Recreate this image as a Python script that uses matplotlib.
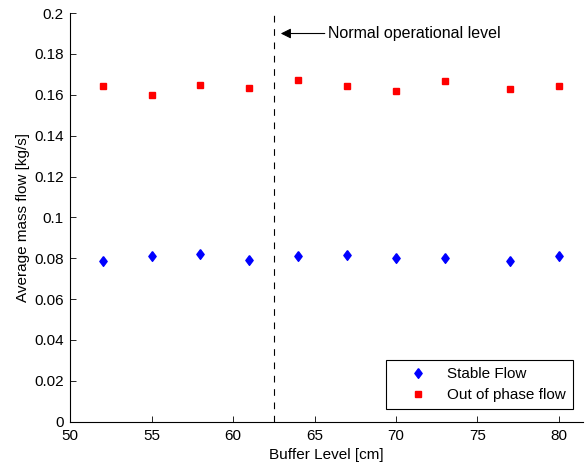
import matplotlib
matplotlib.use('Agg')
import matplotlib.pyplot as plt

plt.rcParams['font.family'] = ['Liberation Sans', 'DejaVu Sans']
plt.rcParams['font.size'] = 11

buffer_level = [52, 55, 58, 61, 64, 67, 70, 73, 77, 80]
stable_flow = [0.0788, 0.0812, 0.0820, 0.0791, 0.0811, 0.0817, 0.0799, 0.0801, 0.0788, 0.0812]
out_of_phase = [0.1644, 0.1597, 0.1647, 0.1634, 0.1672, 0.1644, 0.1618, 0.1667, 0.1628, 0.1644]
normal_level = 62.5

# matlab-ish diamond, a bit taller than wide
diamond = [(0, 1), (0.75, 0), (0, -1), (-0.75, 0), (0, 1)]

fig = plt.figure(figsize=(5.85, 4.67), dpi=100)
ax = fig.add_axes([0.12, 0.097, 0.877, 0.875])

ax.plot(buffer_level, stable_flow, linestyle='none', marker=diamond, color='b',
        markersize=7, label='Stable Flow')
ax.plot(buffer_level, out_of_phase, 'rs', markersize=4.6, label='Out of phase flow')
ax.axvline(normal_level, color='k', linestyle=(0, (6, 6)), linewidth=0.8)

ax.annotate('Normal operational level', xy=(62.93, 0.190), xytext=(65.8, 0.190),
            va='center', ha='left', fontsize=11.5,
            arrowprops=dict(arrowstyle='-|>', color='k', lw=0.8, mutation_scale=15,
                            shrinkA=0, shrinkB=0))

ax.set_xlim(50, 81.5)
ax.set_ylim(0, 0.2)
ax.set_xticks([50, 55, 60, 65, 70, 75, 80])
ax.set_yticks([0, 0.02, 0.04, 0.06, 0.08, 0.1, 0.12, 0.14, 0.16, 0.18, 0.2])
ax.set_yticklabels(['0', '0.02', '0.04', '0.06', '0.08', '0.1', '0.12', '0.14', '0.16', '0.18', '0.2'])
ax.tick_params(direction='in', length=4, width=0.6)
ax.tick_params(axis='y', pad=4.5)
ax.tick_params(axis='x', pad=5)
ax.spines['top'].set_visible(False)
ax.spines['right'].set_visible(False)
ax.spines['left'].set_linewidth(0.8)
ax.spines['bottom'].set_linewidth(0.8)

ax.set_xlabel('Buffer Level [cm]', labelpad=4)
ax.set_ylabel('Average mass flow [kg/s]', labelpad=3)

leg = ax.legend(loc='lower right', fancybox=False, edgecolor='k', framealpha=1,
                borderpad=0.45, handlelength=3.4, handletextpad=0.2, labelspacing=0.45,
                borderaxespad=0, bbox_to_anchor=(573 / 585, 1 - 409 / 467),
                bbox_transform=fig.transFigure)
leg.get_frame().set_linewidth(0.8)

fig.savefig('out.png', dpi=100)
